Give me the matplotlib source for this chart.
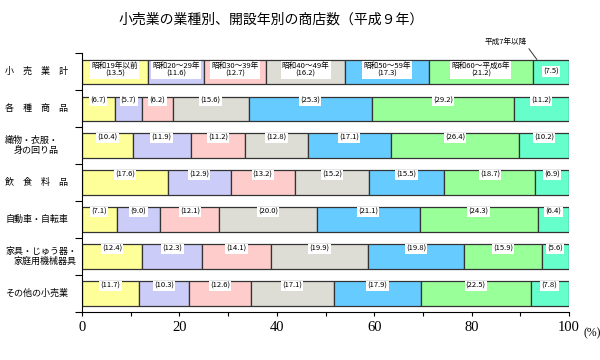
import matplotlib
matplotlib.use("Agg")
import matplotlib.pyplot as plt
from matplotlib.ticker import MultipleLocator, FixedLocator

plt.rcParams['font.family'] = ['Noto Sans CJK JP', 'DejaVu Sans']

# 業種
categories = [
    "小　売　業　計",
    "各　種　商　品",
    "織物・衣服・\n身の回り品",
    "飲　食　料　品",
    "自動車・自転車",
    "家具・じゅう器・\n家庭用機械器具",
    "その他の小売業",
]

# 開設時期
periods = ["昭和19年以前", "昭和20～29年", "昭和30～39年", "昭和40～49年",
           "昭和50～59年", "昭和60～平成6年", "平成7年以降"]

# 構成比 (%)  行=業種, 列=開設時期
shares = [
    [13.5, 11.6, 12.7, 16.2, 17.3, 21.2, 7.5],
    [6.7, 5.7, 6.2, 15.6, 25.3, 29.2, 11.2],
    [10.4, 11.9, 11.2, 12.8, 17.1, 26.4, 10.2],
    [17.6, 12.9, 13.2, 15.2, 15.5, 18.7, 6.9],
    [7.1, 9.0, 12.1, 20.0, 21.1, 24.3, 6.4],
    [12.4, 12.3, 14.1, 19.9, 19.8, 15.9, 5.6],
    [11.7, 10.3, 12.6, 17.1, 17.9, 22.5, 7.8],
]

colors = ["#FFFF99", "#CCCCF8", "#FFCCCC", "#DDDDD5", "#66CCFF", "#99FF99", "#66FFCC"]

fig = plt.figure(figsize=(6, 3.6), dpi=100)
ax = fig.add_axes([0.1367, 0.1333, 0.8117, 0.7194])

bar_h = 0.65
label_box = dict(boxstyle="square,pad=0.15", fc="white", ec="none")

for i, row in enumerate(shares):
    left = 0
    for j, v in enumerate(row):
        ax.barh(i, v, left=left, height=bar_h, color=colors[j],
                edgecolor="#333333", linewidth=0.9)
        cx = left + v / 2
        top = i - bar_h / 2
        if i == 0 and j < len(row) - 1:
            ax.text(cx, i - 0.05, f"{periods[j]}\n({v:.1f})", ha="center", va="center",
                    fontsize=5.5, linespacing=1.0, bbox=label_box)
        elif i == 0:
            ax.text(cx, i, f"({v:.1f})", ha="center", va="center",
                    fontsize=5.5, bbox=label_box)
        else:
            ax.text(cx, top + 0.12, f"({v:.1f})", ha="center", va="center",
                    fontsize=5.5, bbox=label_box)
        left += v

# 平成7年以降 の引出し線
ax.annotate(periods[-1], xy=(93.4, -bar_h / 2), xytext=(87, -0.8),
            fontsize=5.5, ha="center", va="center",
            arrowprops=dict(arrowstyle="-", color="#333333", lw=0.7,
                            relpos=(1.0, 0.0), shrinkA=0, shrinkB=0),
            annotation_clip=False)

ax.set_xlim(0, 100)
ax.set_ylim(6.5, -0.5)

ax.xaxis.set_minor_locator(MultipleLocator(10))
ax.tick_params(axis="x", which="both", length=3, direction="out", width=0.8)
ax.set_xticks([0, 20, 40, 60, 80, 100])
ax.set_xticklabels(["0", "20", "40", "60", "80", "100"],
                   fontfamily="Liberation Serif", fontsize=10.5)
ax.text(1.03, -0.058, "(%)", transform=ax.transAxes, ha="left", va="top",
        fontfamily="Liberation Serif", fontsize=8.5)

ax.set_yticks([])
ax.yaxis.set_minor_locator(FixedLocator([k - 0.5 for k in range(len(categories) + 1)]))
ax.tick_params(axis="y", which="minor", length=5, direction="out", width=0.8)
yt = ax.get_yaxis_transform()
for i, name in enumerate(categories):
    ax.text(-0.158, i, name, transform=yt, ha="left", va="center",
            fontsize=6.5, multialignment="right", linespacing=1.1)

for s in ["top", "right"]:
    ax.spines[s].set_visible(False)
for s in ["left", "bottom"]:
    ax.spines[s].set_linewidth(0.8)

fig.text(0.452, 0.945, "小売業の業種別、開設年別の商店数（平成９年）",
         ha="center", va="center", fontsize=10)

fig.savefig("out.png", dpi=100)
